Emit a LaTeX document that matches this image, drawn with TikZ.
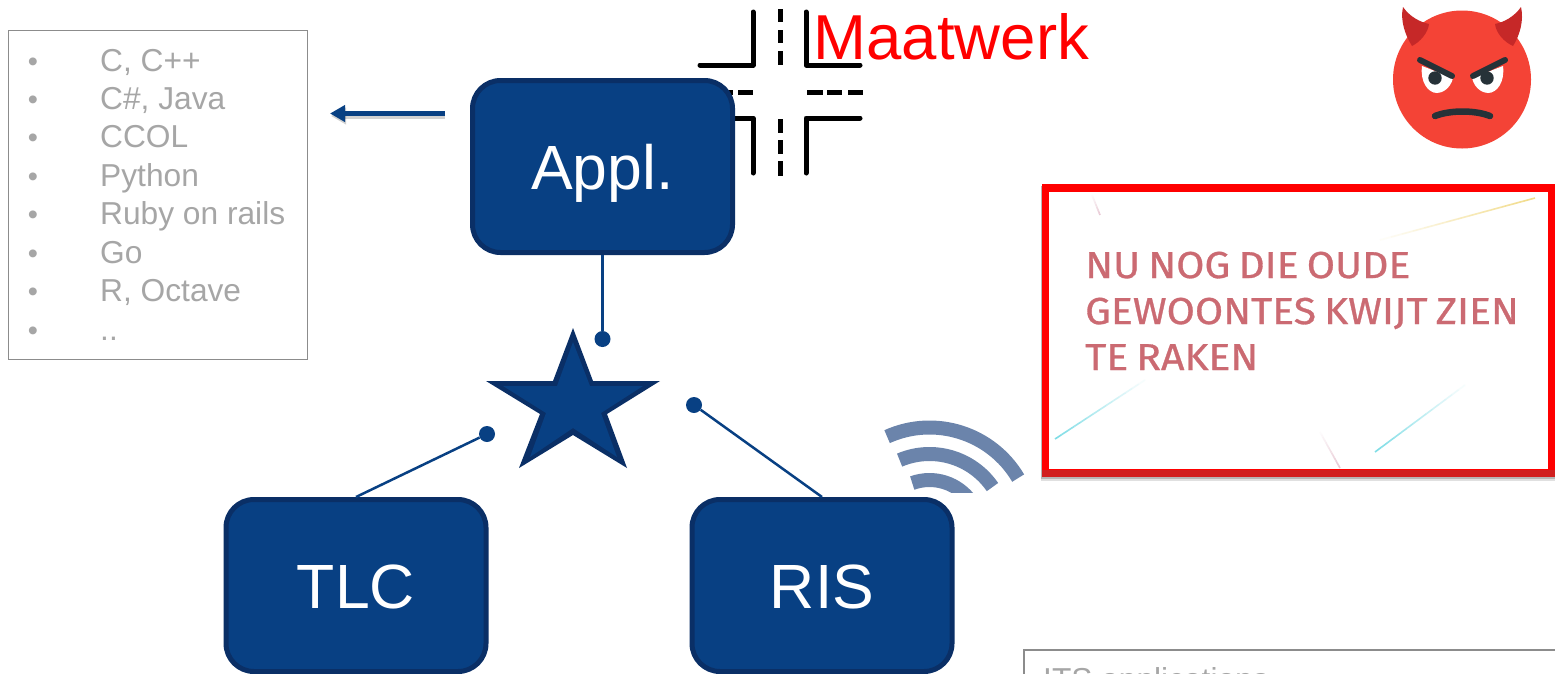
\documentclass[tikz,border=0pt]{standalone}
\usepackage{fontspec}
\setmainfont{Liberation Sans}
\newfontfamily\notefont[FakeStretch=1.09,FakeBold=0.8,WordSpace=0.75]{Fira Sans}
\usetikzlibrary{arrows.meta,calc}
\definecolor{blueA}{HTML}{084083}
\definecolor{blueB}{HTML}{0A2F66}
\definecolor{listgrey}{HTML}{A6A6A6}
\definecolor{boxgrey}{HTML}{8C8C8C}
\definecolor{wifi}{HTML}{6B84AB}
\definecolor{notecol}{HTML}{CB6A72}
\definecolor{devil}{HTML}{F44336}
\definecolor{horn}{HTML}{C62828}
\definecolor{eyecol}{HTML}{263238}
\definecolor{fadecyan}{HTML}{7FDDE6}
\definecolor{fadeyellow}{HTML}{F2DC8C}
\definecolor{fadepink}{HTML}{E8C8D4}
\newcommand{\fadeline}[5]{%
  \foreach \k in {0,...,13}{%
    \pgfmathsetmacro{\pa}{\k/14}\pgfmathsetmacro{\pb}{(\k+1)/14}\pgfmathtruncatemacro{\pc}{100*(\k+1)/14}%
    \draw[color=#1!\pc!white,line width=1.6pt] ($(#2,#3)!\pa!(#4,#5)$) -- ($(#2,#3)!\pb!(#4,#5)$);}}
\tikzset{
  x=1pt,y=-1pt,
  unit/.style={draw=blueB,fill=blueA,line width=5pt,rounded corners=28pt,minimum width=260pt,minimum height=172pt,
    text=white,font=\fontsize{62.5}{70}\selectfont,text height=46.5pt,text depth=0pt,inner sep=0pt},
  dotnode/.style={circle,fill=blueA,minimum size=16pt,inner sep=0pt},
  link/.style={draw=blueA,line width=2.5pt},
  road/.style={black,line width=5pt,line cap=round,line join=round},
  lane/.style={black,line width=5pt},
  listtext/.style={anchor=base west,text=listgrey,font=\fontsize{31.7}{36}\selectfont,inner sep=0pt},
  listbullet/.style={anchor=base,text=listgrey,font=\fontsize{29}{36}\selectfont,inner sep=0pt},
  notetext/.style={anchor=base west,text=notecol,font=\notefont\fontsize{37.5}{42}\selectfont,inner sep=0pt},
  wave/.style={wifi,line width=14pt},
}
\begin{document}
\begin{tikzpicture}
\clip (0,0) rectangle (1555,673);
\fill[white] (0,0) rectangle (1555,673);
% traffic crossing icon
\draw[road] (700,65) -- (753,65) -- (753,12);
\draw[road] (806,12) -- (806,65) -- (860,65);
\draw[road] (700,118) -- (753,118) -- (753,173);
\draw[road] (860,118) -- (806,118) -- (806,173);
\foreach \a/\b in {9/22,30/43,51/65,119/133,140/154,161/176}{\draw[lane] (780,\a) -- (780,\b);}
\foreach \a/\b in {718/733,738/753,807/823,827/842,848/863}{\draw[lane] (\a,92) -- (\b,92);}
% list
\node[draw=boxgrey,line width=1.8pt,minimum width=299pt,minimum height=329pt,inner sep=0pt] (listbox) at (158,195) {};
\foreach \n/\y/\t in {a/71/{C, C++},b/109/{C\#, Java},c/147/CCOL,d/186/Python,e/224/Ruby on rails,f/263/Go,g/301/{R, Octave},h/340/..}{
  \node[listbullet] (b\n) at (33,\y) {•};
  \node[listtext] (t\n) at (100,\y) {\t};
}
% units
\node[unit] (appl) at (602.5,166.5) {Appl.};
\node[unit] (tlc) at (356,585.5) {TLC};
\node[unit] (ris) at (822,585.5) {RIS};
% star
\fill[blueB] (573,328) -- (593,381) -- (660,381) -- (607,414) -- (627,468) -- (573,435) -- (519,468) -- (540,414) -- (486,381) -- (553,381) -- cycle;
\fill[blueA] (573,342) -- (590,386) -- (643,386) -- (601,413) -- (617,457) -- (573,428) -- (530,457) -- (546,413) -- (503,386) -- (557,386) -- cycle;
% connectors
\node[dotnode] (da) at (602.5,339) {};
\node[dotnode] (dt) at (487,434) {};
\node[dotnode] (dr) at (694,405) {};
\draw[link] (appl.south) -- (da);
\draw[link] (tlc.north) -- (dt);
\draw[link] (ris.north) -- (dr);
\coordinate (arrowstart) at (445,113.5);
\coordinate (arrowend) at (330,113.5);
\coordinate (shadowstart) at (445,116);
\coordinate (shadowend) at (331,116);
\draw[black,opacity=.18,line width=5pt,-{Stealth[length=15pt,width=16pt,inset=0pt]}] (shadowstart) -- (shadowend);
\draw[blueA,line width=4.5pt,-{Stealth[length=15pt,width=16pt,inset=0pt]}] (arrowstart) -- (arrowend);
% Maatwerk
\node[anchor=base west,text=red,font=\fontsize{63.5}{70}\selectfont,inner sep=0pt] (maat) at (813.5,59.5) {Maatwerk};
% wifi
\begin{scope}
\clip (870,410) rectangle (1040,492.5);
\draw[wave] (929.5,530.5) ++(-114.3:103) arc[start angle=-114.3,end angle=-30.6,radius=103];
\draw[wave] (929.5,530.5) ++(-113:76.5) arc[start angle=-113,end angle=-34.6,radius=76.5];
\draw[wave] (929.5,530.5) ++(-110:50.5) arc[start angle=-110,end angle=-34.6,radius=50.5];
\end{scope}
% note card
\fill[black,opacity=.12] (1041,186) rectangle (1560,481);
\fill[black,opacity=.18] (1041,186) rectangle (1560,479);
\fill[red] (1042,184) rectangle (1560,477);
\fill[horn!80!red] (1042,470) rectangle (1560,477);
\fill[white] (1049,192) rectangle (1548,469);
\fadeline{fadecyan}{1145}{380}{1055}{439}
\fadeline{fadecyan}{1465}{385}{1375}{452}
\fadeline{fadeyellow}{1380}{240}{1535}{198}
\fadeline{fadepink}{1092}{195}{1100}{215}
\fadeline{fadepink}{1320}{432}{1340}{468}
\node[notetext] (n1) at (1085,278) {NU NOG DIE OUDE};
\node[notetext] (n2) at (1085,324) {GEWOONTES KWIJT ZIEN};
\node[notetext] (n3) at (1085,370) {TE RAKEN};
% devil
\fill[devil] (1462,79.5) circle[radius=69];
\fill[horn] (1403,7) .. controls (1410,17) and (1420,22) .. (1429,24) .. controls (1428,33) and (1420,42) .. (1412,46) .. controls (1405,35) and (1400,20) .. cycle;
\fill[horn] (1521,7) .. controls (1514,17) and (1504,22) .. (1495,24) .. controls (1496,33) and (1504,42) .. (1513,46) .. controls (1520,35) and (1524,20) .. cycle;
\fill[white] (1422,66) -- (1453,78) .. controls (1450,90) and (1441,93) .. (1437,93) .. controls (1428,93) and (1420,82) .. cycle;
\fill[white] (1503,66) -- (1472,78) .. controls (1475,90) and (1484,93) .. (1488,93) .. controls (1497,93) and (1505,82) .. cycle;
\fill[eyecol] (1435,78) circle[radius=6.7];
\fill[eyecol] (1487,78) circle[radius=6.7];
\draw[eyecol,line width=6pt,line cap=round] (1420,60) -- (1452,76);
\draw[eyecol,line width=6pt,line cap=round] (1505,60) -- (1473,76);
\draw[eyecol,line width=6.5pt,line cap=round] (1435,116) .. controls (1450,110) and (1475,110) .. (1490,116);
% ITS box
\node[draw=boxgrey,line width=1.8pt,anchor=north west,minimum width=600pt,minimum height=100pt,inner sep=0pt] (itsbox) at (1023,649) {};
\node[anchor=base west,text=listgrey,font=\fontsize{31.7}{36}\selectfont,inner sep=0pt] (its) at (1043,690.5) {ITS applications};
\end{tikzpicture}
\end{document}
